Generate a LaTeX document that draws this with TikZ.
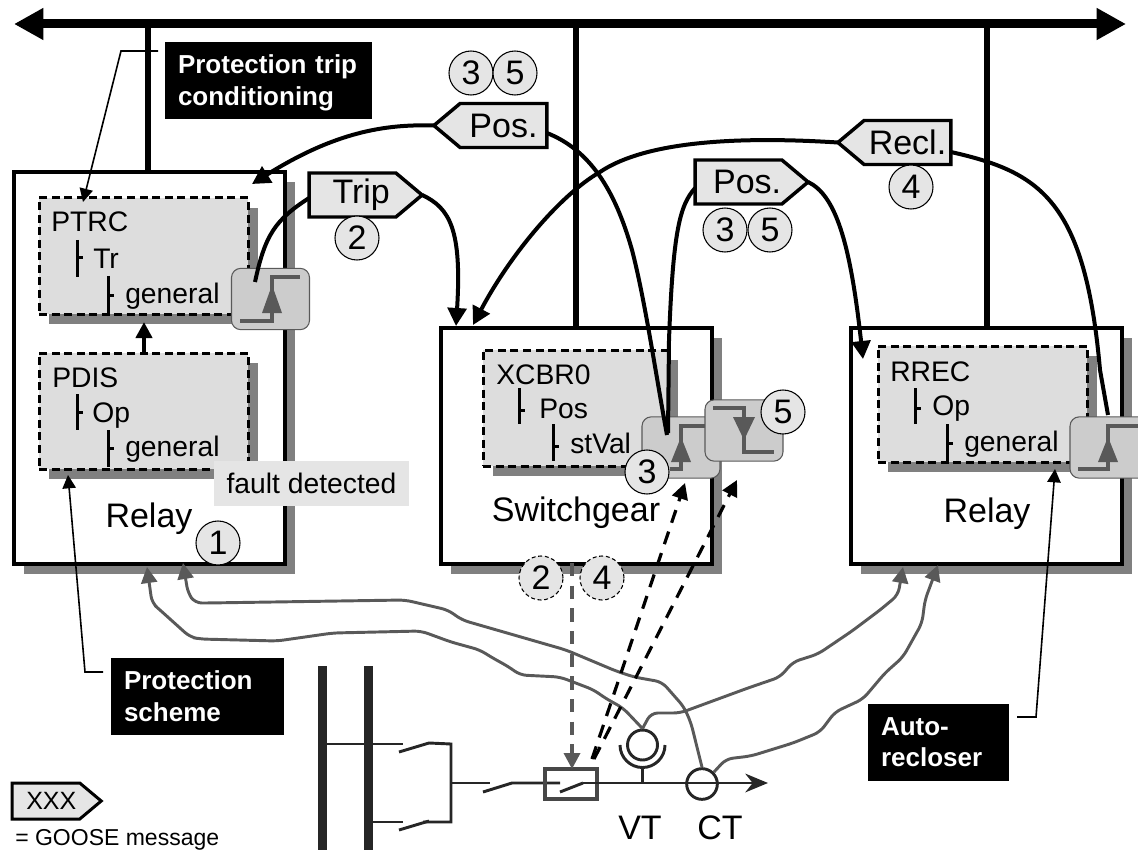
\documentclass[tikz,border=0pt]{standalone}
\usepackage{xcolor}
\usepackage{fontspec}
\setmainfont{Liberation Sans}
\usetikzlibrary{arrows.meta,shapes.symbols,shadows}

\definecolor{shadowgray}{HTML}{808080}
\definecolor{lnfill}{HTML}{DDDDDD}
\definecolor{tagfill}{HTML}{E5E5E5}
\definecolor{edgefill}{HTML}{CCCCCC}
\definecolor{wiregray}{HTML}{595959}
\definecolor{linedark}{HTML}{262626}

\begin{document}
\begin{tikzpicture}[x=0.75pt,y=0.75pt,yscale=-1,xscale=1,
  boxshadow/.style={drop shadow={shadow xshift=7.5pt,shadow yshift=-7.5pt,fill=shadowgray,opacity=1}},
  ieddevice/.style={draw,fill=white,line width=3pt,outer sep=0pt,anchor=north west,boxshadow},
  lnbox/.style={draw,fill=lnfill,dashed,dash pattern=on 6pt off 3.4pt,line width=2.25pt,outer sep=0pt,anchor=north west,minimum width=157pt,minimum height=87pt,boxshadow},
  edgeblock/.style={draw=wiregray,fill=edgefill,line width=0.8pt,rounded corners=7pt,minimum width=58.5pt,minimum height=46pt,outer sep=0pt},
  edgestep/.style={draw=wiregray,line width=3pt},
  edgehead/.style={fill=wiregray},
  msgtag/.style={signal,draw,fill=tagfill,line width=2.6pt,inner sep=0pt,outer sep=0pt,minimum height=33pt,minimum width=84.75pt,signal pointer angle=80,font=\fontsize{25.5}{30}\selectfont},
  stepmark/.style={circle,draw,fill=tagfill,line width=0.8pt,minimum size=33pt,inner sep=0pt,font=\fontsize{25.5}{30}\selectfont},
  notebox/.style={fill=black,text=white,anchor=north west,align=left,inner xsep=9.75pt,inner ysep=0pt,outer sep=0pt,minimum height=57.5pt,font=\fontsize{19.5}{23.5}\selectfont\bfseries},
  lntext/.style={anchor=base west,inner sep=0pt,font=\fontsize{21.2}{25}\selectfont},
  devtext/.style={anchor=base,inner sep=0pt,font=\fontsize{25.5}{30}\selectfont},
  treeline/.style={line width=2.25pt},
  busline/.style={line width=6.75pt},
  netline/.style={line width=4.9pt},
  msgline/.style={line width=3pt,-{Triangle[length=13.5pt,width=14pt]}},
  leader/.style={line width=1.2pt,-{Triangle[length=10pt,width=10pt]}},
  wire/.style={draw=wiregray,line width=2.2pt,rounded corners=5pt,-{Triangle[length=12pt,width=12pt]},wiregray},
  sense/.style={line width=2.4pt,dash pattern=on 10pt off 7pt,-{Triangle[length=12pt,width=12pt]}},
  primary/.style={draw=linedark,line width=2.2pt}]
\useasboundingbox (0,0) rectangle (1138,852);
\clip (0,0) rectangle (1138,852);

% station bus
\coordinate (busleft) at (14,24);
\coordinate (busright) at (1126,24);
\draw[busline,{Triangle[length=22pt,width=22.5pt]}-{Triangle[length=22pt,width=22.5pt]}] (busleft) -- (busright);

% Devices
\node[ieddevice,minimum width=203.25pt,minimum height=294pt] (relayA) at (13.5,172) {};
\node[ieddevice,minimum width=203.25pt,minimum height=177pt] (switchgear) at (441,328) {};
\node[ieddevice,minimum width=203.25pt,minimum height=177pt] (relayB) at (851,328) {};

% bus drops
\draw[netline] (148,24) -- (148,172);
\draw[netline] (576,24) -- (576,328);
\draw[netline] (987,24) -- (987,328);

% Logical nodes
\node[lnbox] (ptrc) at (39,198) {};
\node[lnbox] (pdis) at (39,353) {};
\node[lnbox,minimum width=139pt] (xcbr) at (483,350) {};
\node[lnbox] (rrec) at (878,346) {};

% Text Node
\node[lntext] (ptrcname) at (51,232) {PTRC};
\node[lntext] (ptrcdo) at (93,268) {Tr};
\node[lntext] (ptrcda) at (125,303) {general};
\draw[treeline] (77,240) -- (77,277) (77,258) -- (83,258);
\draw[treeline] (108,276) -- (108,313) (108,295) -- (114,295);

\node[lntext] (pdisname) at (52,387) {PDIS};
\node[lntext] (pdisdo) at (92,422) {Op};
\node[lntext] (pdisda) at (125,456) {general};
\draw[treeline] (77,394) -- (77,430) (77,412) -- (83,412);
\draw[treeline] (108,430) -- (108,467) (108,448) -- (114,448);

\node[lntext] (xcbrname) at (496,384) {XCBR0};
\node[lntext] (xcbrdo) at (539,418) {Pos};
\node[lntext] (xcbrda) at (570,453) {stVal};
\draw[treeline] (519,388) -- (519,424) (519,410) -- (525,410);
\draw[treeline] (553,424) -- (553,461) (553,446) -- (559,446);

\node[lntext] (rrecname) at (890,381) {RREC};
\node[lntext] (rrecdo) at (932,415) {Op};
\node[lntext] (rrecda) at (964,451) {general};
\draw[treeline] (915,388) -- (915,424) (915,408) -- (921,408);
\draw[treeline] (947,424) -- (947,461) (947,443) -- (953,443);

\node[devtext] (relayAname) at (149,527) {Relay};
\node[devtext] (switchname) at (576,521) {Switchgear};
\node[devtext] (relayBname) at (987,522) {Relay};

% PDIS to PTRC
\draw[line width=3pt,-{Triangle[length=12pt,width=12pt]}] (pdis.north -| 144,353) -- (144,322);

% Edge blocks
\node[edgeblock] (edgeA) at (270.5,299) {};
\draw[edgestep] (240,321) -- (272,321) -- (272,277) -- (300,277);
\fill[edgehead] (272,285) -- (282,313) -- (262,313) -- cycle;

\node[edgeblock] (edgeB) at (681,447.5) {};
\draw[edgestep] (670,469) -- (681,469) -- (681,426) -- (705,426);
\fill[edgehead] (681,437) -- (691,462) -- (671,462) -- cycle;

\node[edgeblock] (edgeC) at (744,430.5) {};
\draw[edgestep] (713,408) -- (744,408) -- (744,452) -- (774,452);
\fill[edgehead] (744,440) -- (733,417) -- (755,417) -- cycle;

\node[edgeblock] (edgeD) at (1109,447.5) {};
\draw[edgestep] (1078,469) -- (1108,469) -- (1108,426) -- (1140,426);
\fill[edgehead] (1108,437) -- (1118,462) -- (1098,462) -- cycle;

% GOOSE tags
\node[msgtag,signal to=west] (posA) at (503.5,125.5) {Pos.\hspace{13pt}};
\node[msgtag,signal to=east] (trip) at (352.5,195) {\hspace{13pt}Trip};
\node[msgtag,signal to=east] (posB) at (738.5,182) {\hspace{13pt}Pos.};
\node[msgtag,signal to=west] (recl) at (907.5,142.5) {Recl.\hspace{13pt}};

% GOOSE messages
\coordinate (edgeAout) at (255,282);
\coordinate (edgeBin) at (667,435);
\coordinate (edgeBout) at (668,433);
\coordinate (edgeDout) at (1108,415);
\draw[msgline] (posA.west) .. controls (385,124) and (335,132) .. (252,184);
\draw[line width=3pt] (posA.east |- 547,133) .. controls (590,150) and (615,190) .. (632,250) .. controls (645,300) and (655,370) .. (edgeBin);
\draw[line width=3pt] (trip.west |- 309,198) .. controls (275,220) and (265,235) .. (edgeAout);
\draw[msgline] (trip.east) .. controls (450,208) and (462,230) .. (456,326);
\draw[line width=3pt] (posB.west |- 695,188) .. controls (680,205) and (673,230) .. (669,340) -- (edgeBout);
\draw[msgline] (posB.east) .. controls (835,195) and (850,240) .. (863,359);
\draw[msgline] (recl.west) .. controls (720,135) and (640,145) .. (600,172) .. controls (560,195) and (510,255) .. (473,325);
\draw[line width=3pt] (recl.east |- 951,152) .. controls (1040,172) and (1085,200) .. (1100,370) -- (edgeDout);

% fault flag
\node[fill=tagfill,inner sep=0pt,minimum width=146.25pt,minimum height=33.75pt,font=\fontsize{21.2}{25}\selectfont] (fault) at (311.5,483.5) {fault detected};

% Step marks
\node[stepmark] (markA) at (218,543) {1};
\node[stepmark] (markB) at (357,238) {2};
\node[stepmark] (markC) at (471,73) {3};
\node[stepmark] (markD) at (515,73) {5};
\node[stepmark] (markE) at (725,230) {3};
\node[stepmark] (markF) at (770,230) {5};
\node[stepmark] (markG) at (911,187) {4};
\node[stepmark] (markH) at (647,472) {3};
\node[stepmark] (markI) at (783,412) {5};
\node[stepmark,dashed,dash pattern=on 3pt off 2pt] (markJ) at (541,578) {2};
\node[stepmark,dashed,dash pattern=on 3pt off 2pt] (markK) at (602,578) {4};

% Notes
\node[notebox,text width=135.75pt,font=\fontsize{19.5}{24}\selectfont\bfseries] (notePTRC) at (165,42) {\rule{0pt}{18pt}Protection trip\\conditioning};
\node[notebox,text width=110.25pt] (notePDIS) at (111,658) {Protection\\scheme};
\node[notebox,text width=86.25pt] (noteRREC) at (868,704) {Auto-\\recloser};
\coordinate (notePTRCend) at (158,51);
\coordinate (notePDISend) at (103,672);
\coordinate (noteRRECend) at (1017,717);
\draw[leader] (notePTRCend) -- (121,51) -- (83,202);
\draw[leader] (notePDISend) -- (85,672) -- (68,475);
\draw[leader] (noteRRECend) -- (1036,717) -- (1055,469);

% Primary one-line
\fill[linedark] (317.5,666) rectangle (326.5,850);
\fill[linedark] (364,666) rectangle (373,850);
\draw[primary] (322,744) -- (403,744);
\draw[primary] (399,752) -- (429,743) -- (451,744) -- (451,822) -- (423,822);
\draw[primary] (368,822) -- (403,822);
\draw[primary] (399,830) -- (429,821);
\draw[primary] (451,783) -- (490,783);
\draw[primary] (483,792) -- (512,783) -- (560,783);
\node[draw=linedark!85!white,line width=2.4pt,minimum width=39pt,minimum height=22.5pt,inner sep=0pt,outer sep=0pt] (breaker) at (571,784) {};
\draw[primary] (560,792) -- (583,783);
\coordinate (lineend) at (768,783);
\draw[primary,-{Stealth[length=17pt,width=14pt]}] (583,783) -- (lineend);

\node[circle,draw=linedark,line width=2.2pt,minimum size=22.5pt,inner sep=0pt] (vt) at (642.5,745) {};
\draw[primary] (620,745) arc[start angle=180,end angle=0,radius=22.5];
\draw[primary] (642.5,767) -- (642.5,783);
\node[circle,draw=linedark,line width=2.2pt,minimum size=23pt,inner sep=0pt] (ct) at (702,784) {};
\node[devtext] (vtname) at (640,839) {VT};
\node[devtext] (ctname) at (720,839) {CT};

% Analog wires
\coordinate (relayAinA) at (147,567);
\coordinate (relayAinB) at (183,563);
\coordinate (relayBinA) at (903,567);
\coordinate (relayBinB) at (938,565);
\draw[wire] (vt.north) -- (623,708) -- (605,698) -- (594,690) -- (560,677) -- (520,675) -- (509,667) -- (491,657) -- (480,650) -- (451,642) -- (421,631) -- (333,633) -- (277,641) -- (200,639) -- (190,637) -- (160,610) -- (152,603) -- (relayAinA);
\draw[wire] (ct.north) -- (691,723) -- (684,707) -- (662,682) -- (634,677) -- (616,671) -- (566,650) -- (462,620) -- (448,610) -- (405,600) -- (207,603) -- (195,603) -- (188,593) -- (relayAinB);
\draw[wire] (vt.north) -- (651,713) -- (680,713) -- (748,688) -- (780,677) -- (793,662) -- (818,654) -- (852,631) -- (880,610) -- (898,595) -- (relayBinA);
\draw[wire] (ct.north east) -- (726,759) -- (751,756) -- (793,743) -- (820,732) -- (835,712) -- (863,699) -- (885,673) -- (903,657) -- (922,623) -- (925,600) -- (relayBinB);

% Control signals
\coordinate (senseAend) at (685,483);
\coordinate (senseBend) at (737,480);
\draw[sense] (592,759) -- (senseAend);
\draw[sense] (594,759) -- (senseBend);
\draw[sense,line width=2.6pt,draw=wiregray,wiregray] (572,563) -- (breaker.north -| 572,772);

% legend
\node[msgtag,signal to=east,minimum height=27pt,minimum width=66.75pt,line width=2.25pt,font=\fontsize{18.75}{22}\selectfont] (legendtag) at (46,801) {\hspace{8pt}XXX};
\node[lntext,font=\fontsize{17.25}{20}\selectfont] (legendtext) at (15,845) {= GOOSE message};

\end{tikzpicture}
\end{document}
